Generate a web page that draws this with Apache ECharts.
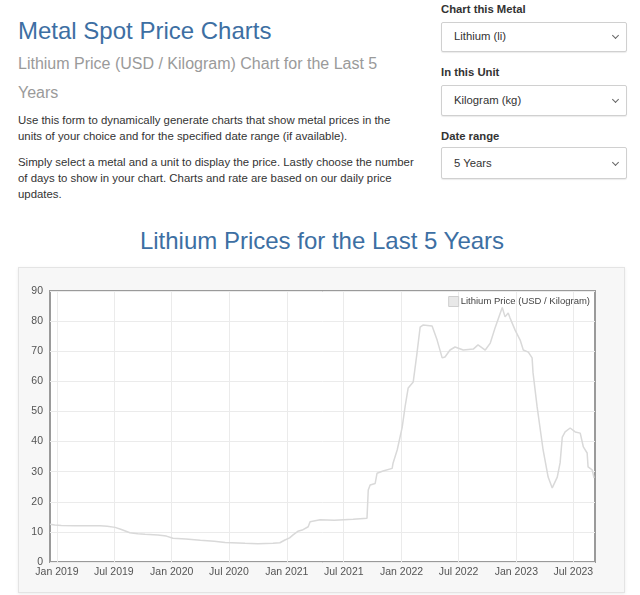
<!DOCTYPE html>
<html>
<head>
<meta charset="utf-8">
<title>Lithium Prices for the Last 5 Years</title>
<script src="https://cdn.jsdelivr.net/npm/echarts@6/dist/echarts.min.js"></script>
<style>
  body { margin: 0; background: #fff; font-family: "Helvetica Neue", Helvetica, Arial, "Liberation Sans", sans-serif; color: #333; }
  .abs { position: absolute; white-space: nowrap; }
  h1, h2, h3 { margin: 0; font-weight: normal; }
  .blue { color: #3d6fa3; font-size: 24px; line-height: 24px; }
  .sub { color: #9a9a9a; font-size: 16px; line-height: 29px; }
  .txt { font-size: 11.4px; line-height: 16.3px; color: #333; }
  .lbl { font-size: 11.3px; font-weight: bold; color: #333; line-height: 14px; }
  .sel { position: absolute; left: 441px; width: 184px; border: 1px solid #d0d0d0; border-radius: 2px;
         box-shadow: 0 1px 1px rgba(0,0,0,0.08); background: #fff; font-size: 11.3px; color: #333; }
  .sel span { position: absolute; left: 12px; }
  .sel i { position: absolute; right: 8px; width: 4px; height: 4px; border-right: 1px solid #666; border-bottom: 1px solid #666; transform: rotate(45deg); }
  #box { position: absolute; left: 18px; top: 267px; width: 605px; height: 324px; background: #f7f7f7;
         border: 1px solid #e4e4e4; box-shadow: 0 1px 3px rgba(0,0,0,0.08); }
  #chart { position: absolute; left: 18px; top: 267px; width: 607px; height: 326px; }
</style>
</head>
<body>
<h1 class="abs blue" style="left:18px; top:19px;">Metal Spot Price Charts</h1>
<h3 class="abs sub" style="left:18px; top:49px;">Lithium Price (USD / Kilogram) Chart for the Last 5<br>Years</h3>
<div class="abs txt" style="left:18px; top:112px;">Use this form to dynamically generate charts that show metal prices in the<br>units of your choice and for the specified date range (if available).</div>
<div class="abs txt" style="left:18px; top:153.5px;">Simply select a metal and a unit to display the price. Lastly choose the number<br>of days to show in your chart. Charts and rate are based on our daily price<br>updates.</div>

<div class="abs lbl" style="left:441px; top:2px;">Chart this Metal</div>
<div class="sel" style="top:22px; height:28px;"><span style="top:7px;">Lithium (li)</span><i style="top:10px;"></i></div>
<div class="abs lbl" style="left:441px; top:65px;">In this Unit</div>
<div class="sel" style="top:85px; height:29px;"><span style="top:8px;">Kilogram (kg)</span><i style="top:11px;"></i></div>
<div class="abs lbl" style="left:441px; top:128.5px;">Date range</div>
<div class="sel" style="top:147px; height:30px;"><span style="top:9px;">5 Years</span><i style="top:12px;"></i></div>

<h2 class="abs blue" style="left:0; width:644px; text-align:center; top:229px;">Lithium Prices for the Last 5 Years</h2>

<div id="box"></div>
<div id="chart"></div>

<script>
// price series (USD / kg)
const priceDates = [
  '2018-12-10', '2018-12-25', '2019-01-15', '2019-02-27', '2019-04-10', '2019-05-18', '2019-06-10', '2019-07-05',
  '2019-07-25', '2019-08-21', '2019-09-15', '2019-10-08', '2019-11-18', '2019-12-15', '2020-01-05', '2020-02-15',
  '2020-04-01', '2020-05-15', '2020-06-19', '2020-08-21', '2020-10-01', '2020-11-18', '2020-12-10', '2020-12-26',
  '2021-01-10', '2021-01-21', '2021-02-05', '2021-02-19', '2021-03-10', '2021-03-16', '2021-04-17', '2021-06-01',
  '2021-07-31', '2021-09-13', '2021-09-17', '2021-09-23', '2021-10-09', '2021-10-15', '2021-11-03', '2021-12-02',
  '2021-12-05', '2021-12-18', '2022-01-03', '2022-01-12', '2022-01-22', '2022-02-07', '2022-02-19', '2022-03-01',
  '2022-03-10', '2022-04-08', '2022-04-24', '2022-05-10', '2022-05-19', '2022-06-04', '2022-06-20', '2022-07-16',
  '2022-08-17', '2022-09-01', '2022-09-24', '2022-10-10', '2022-10-26', '2022-11-17', '2022-11-26', '2022-12-06',
  '2022-12-12', '2022-12-28', '2023-01-13', '2023-01-23', '2023-02-08', '2023-02-20', '2023-02-23', '2023-03-08',
  '2023-03-27', '2023-04-12', '2023-04-25', '2023-05-11', '2023-05-20', '2023-05-27', '2023-06-05', '2023-06-21',
  '2023-07-07', '2023-07-23', '2023-08-02', '2023-08-14', '2023-08-17', '2023-08-30', '2023-09-05'
];
const priceValues = [
  12.5, 12.3, 12.1, 12.0, 12.0, 12.0, 11.9, 11.5,
  10.8, 9.7, 9.4, 9.2, 9.0, 8.6, 7.9, 7.6,
  7.2, 6.9, 6.5, 6.2, 6.1, 6.2, 6.4, 7.3,
  8.0, 9.0, 10.2, 10.6, 11.7, 13.4, 14.0, 13.9,
  14.2, 14.5, 23.9, 25.6, 26.1, 29.5, 30.2, 31.1,
  32.9, 37.2, 44.8, 51.5, 57.8, 59.8, 69.4, 78.0,
  78.7, 78.4, 73.7, 67.8, 68.1, 70.4, 71.4, 70.4,
  70.7, 72.1, 70.4, 72.7, 78.0, 84.5, 81.4, 82.7,
  81.0, 77.0, 73.7, 70.4, 69.7, 67.8, 62.8, 51.5,
  37.2, 28.2, 24.6, 28.2, 32.9, 41.5, 43.2, 44.5,
  43.2, 42.8, 38.2, 36.2, 31.6, 30.6, 27.9
];

// x axis ticks
const tickDates = ['2019-01-01', '2019-07-01', '2020-01-01', '2020-07-01', '2021-01-01',
                   '2021-07-01', '2022-01-01', '2022-07-01', '2023-01-01', '2023-07-01'];
const tickLabels = ['Jan 2019', 'Jul 2019', 'Jan 2020', 'Jul 2020', 'Jan 2021',
                    'Jul 2021', 'Jan 2022', 'Jul 2022', 'Jan 2023', 'Jul 2023'];
const xMin = '2018-12-10';
const xMax = '2023-09-08';

// y axis
const yMin = 0;
const yMax = 90;
const yStep = 10;

const seriesName = 'Lithium Price (USD / Kilogram)';

function toTime(s) {
    return new Date(s + 'T00:00:00').getTime();
}

const tickTimes = tickDates.map(toTime);
const seriesData = priceDates.map((d, i) => [toTime(d), priceValues[i]]);

const chart = echarts.init(document.getElementById('chart'), null, { renderer: 'canvas' });

const fontFamily = '"Helvetica Neue", Helvetica, Arial, "Liberation Sans", sans-serif';

const option = {
    animation: false,
    textStyle: { fontFamily: fontFamily },
    grid: {
        left: 32,
        right: 30,
        top: 24,
        bottom: 31,
        show: true,
        backgroundColor: '#ffffff',
        borderColor: '#9a9a9a',
        borderWidth: 2
    },
    legend: {
        show: true,
        right: 35,
        top: 29,
        padding: 0,
        itemWidth: 10,
        itemHeight: 10,
        icon: 'rect',
        itemStyle: { color: '#e8e8e8', borderColor: '#cfcfcf', borderWidth: 1 },
        textStyle: { fontSize: 9.5, color: '#444', padding: [0, 0, 0, -3] },
        data: [seriesName]
    },
    // dates handled as plain millisecond values so the half-year ticks can be placed exactly
    xAxis: {
        type: 'value',
        min: toTime(xMin),
        max: toTime(xMax),
        axisLine: { show: false },
        axisTick: { show: false, customValues: tickTimes },
        axisLabel: {
            customValues: tickTimes,
            margin: 5,
            fontSize: 10.5,
            color: '#545454',
            formatter: function (value) {
                const i = tickTimes.indexOf(value);
                return i >= 0 ? tickLabels[i] : '';
            }
        },
        splitLine: { show: true, lineStyle: { color: '#ebebeb', width: 1 } }
    },
    yAxis: {
        type: 'value',
        min: yMin,
        max: yMax,
        interval: yStep,
        axisLine: { show: false },
        axisTick: { show: false },
        axisLabel: { margin: 7, fontSize: 10.5, color: '#545454' },
        splitLine: { show: true, lineStyle: { color: '#ebebeb', width: 1 } }
    },
    series: [{
        name: seriesName,
        type: 'line',
        data: seriesData,
        showSymbol: false,
        symbol: 'none',
        lineStyle: { color: '#d9d9d9', width: 1.5 },
        itemStyle: { color: '#d9d9d9' }
    }]
};

chart.setOption(option);
</script>
</body>
</html>
